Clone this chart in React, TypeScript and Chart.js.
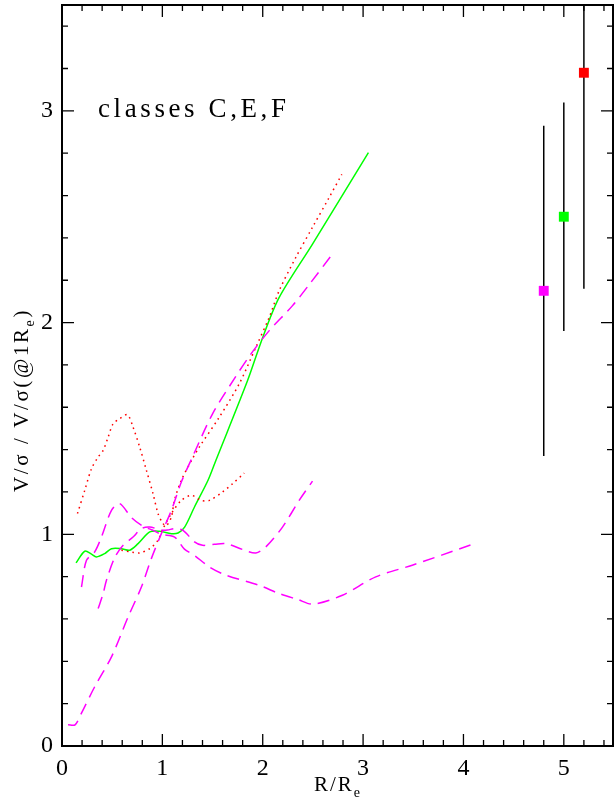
import React, { useEffect, useRef } from "react";
import { Chart, registerables } from "chart.js";

Chart.register(...registerables);

// ---- data ----
const greenX = [0.14, 0.227, 0.294, 0.343, 0.426, 0.493, 0.592, 0.675, 0.758, 0.874, 0.973, 1.09, 1.156, 1.222, 1.32, 1.455, 1.534, 1.849, 2.0, 2.164, 2.496, 3.053];
const greenY = [0.865, 0.92, 0.906, 0.893, 0.909, 0.932, 0.932, 0.925, 0.956, 1.011, 1.014, 1.003, 1.006, 1.034, 1.129, 1.255, 1.35, 1.726, 1.93, 2.119, 2.371, 2.803];

const redLongX = [0.154, 0.227, 0.294, 0.36, 0.41, 0.46, 0.509, 0.575, 0.652, 0.708, 0.774, 0.841, 0.907, 0.957, 1.007, 1.04, 1.09, 1.12, 1.189, 1.3, 1.368, 1.567, 1.766, 1.932, 2.065, 2.164, 2.33, 2.496, 2.662, 2.788];
const redLongY = [1.098, 1.208, 1.31, 1.365, 1.396, 1.459, 1.522, 1.546, 1.565, 1.506, 1.412, 1.302, 1.192, 1.098, 1.05, 1.04, 1.082, 1.16, 1.255, 1.357, 1.412, 1.553, 1.711, 1.884, 2.025, 2.151, 2.308, 2.45, 2.591, 2.7];

const redShortX = [0.592, 0.7, 0.774, 0.874, 0.957, 1.0, 1.09, 1.189, 1.289, 1.388, 1.468, 1.6, 1.7, 1.816];
const redShortY = [0.925, 0.915, 0.912, 0.932, 0.972, 1.02, 1.098, 1.16, 1.184, 1.16, 1.16, 1.2, 1.239, 1.289];

const magAX = [0.06, 0.13, 0.194, 0.326, 0.493, 0.659, 0.791, 0.89, 0.99, 1.09, 1.189, 1.3, 1.5, 1.716, 1.883, 2.065, 2.297, 2.48, 2.688];
const magAY = [0.1, 0.1, 0.155, 0.28, 0.421, 0.61, 0.751, 0.885, 1.003, 1.113, 1.247, 1.365, 1.569, 1.734, 1.852, 1.962, 2.08, 2.19, 2.32];

const magBX = [0.194, 0.244, 0.326, 0.393, 0.493, 0.575, 0.69, 0.8, 0.9, 0.99, 1.122, 1.22, 1.32, 1.468, 1.634, 1.965, 2.164, 2.35, 2.5, 2.794, 3.126, 3.49, 4.075];
const magBY = [0.751, 0.877, 0.917, 0.987, 1.113, 1.145, 1.08, 1.04, 1.02, 1.0, 0.987, 0.93, 0.9, 0.846, 0.807, 0.759, 0.72, 0.692, 0.67, 0.712, 0.799, 0.854, 0.95];

const magCX = [0.36, 0.41, 0.443, 0.525, 0.609, 0.708, 0.791, 0.874, 0.99, 1.05, 1.122, 1.206, 1.32, 1.4, 1.52, 1.634, 1.8, 1.932, 2.03, 2.197, 2.363, 2.496];
const magCY = [0.649, 0.72, 0.783, 0.89, 0.948, 0.987, 1.027, 1.034, 1.02, 1.02, 1.027, 1.019, 0.964, 0.948, 0.953, 0.956, 0.928, 0.912, 0.94, 1.034, 1.16, 1.251];

const errX = [4.8, 5.0, 5.2];
const errY = [2.15, 2.5, 3.18];
const errLow = [1.37, 1.96, 2.16];
const errHigh = [2.93, 3.04, 4.2];
const errColors = ["#ff00ff", "#00ff00", "#ff0000"];

const xTickValues = [0, 1, 2, 3, 4, 5];
const xTickLabels = ["0", "1", "2", "3", "4", "5"];
const yTickValues = [0, 1, 2, 3];
const yTickLabels = ["0", "1", "2", "3"];
const minorStep = 0.2;
const xMin = 0, xMax = 5.5, yMin = 0, yMax = 3.5;

const annotationText = "classes C,E,F";
const xTitleParts = [{ text: "R/R" }, { text: "e", sub: true }];
const yTitleParts = [{ text: "V/σ / V/σ(@1R" }, { text: "e", sub: true }, { text: ")" }];

const FONT = '"Liberation Serif", "DejaVu Serif", serif';

function pts(xs: number[], ys: number[]) {
  return xs.map((x, i) => ({ x, y: ys[i] }));
}

type Part = { text: string; sub?: boolean };

function drawRich(ctx: CanvasRenderingContext2D, parts: Part[], cx: number, baseline: number, size: number, spacing: number) {
  const widths: number[] = [];
  let total = 0;
  parts.forEach((p) => {
    ctx.font = `${p.sub ? Math.round(size * 0.65) : size}px ${FONT}`;
    (ctx as any).letterSpacing = spacing + "px";
    const w = ctx.measureText(p.text).width;
    widths.push(w);
    total += w;
  });
  let x = cx - total / 2;
  ctx.textAlign = "left";
  ctx.textBaseline = "alphabetic";
  parts.forEach((p, i) => {
    ctx.font = `${p.sub ? Math.round(size * 0.65) : size}px ${FONT}`;
    (ctx as any).letterSpacing = spacing + "px";
    ctx.fillText(p.text, x, baseline + (p.sub ? size * 0.3 : 0));
    x += widths[i];
  });
}

const framePlugin = {
  id: "frame",
  beforeDatasetsDraw(chart: any) {
    const { ctx, chartArea, scales } = chart;
    const xs = scales.x, ys = scales.y;
    ctx.save();
    ctx.beginPath();
    ctx.rect(chartArea.left, chartArea.top, chartArea.right - chartArea.left, chartArea.bottom - chartArea.top);
    ctx.clip();
    ctx.strokeStyle = "#000";
    ctx.lineWidth = 1.5;
    errX.forEach((x, i) => {
      const px = xs.getPixelForValue(x);
      ctx.beginPath();
      ctx.moveTo(px, ys.getPixelForValue(errLow[i]));
      ctx.lineTo(px, ys.getPixelForValue(errHigh[i]));
      ctx.stroke();
    });
    ctx.restore();
  },
  afterDraw(chart: any) {
    const { ctx, chartArea, scales } = chart;
    const xs = scales.x, ys = scales.y;
    const { left, right, top, bottom } = chartArea;
    ctx.save();
    ctx.strokeStyle = "#000";
    ctx.fillStyle = "#000";
    ctx.lineWidth = 2;
    ctx.strokeRect(left, top, right - left - 1, bottom - top);

    const major = 12, minor = 6;
    ctx.lineWidth = 1.3;
    for (let k = 0; xMin + k * minorStep <= xMax + 1e-9; k++) {
      const v = xMin + k * minorStep;
      const isMajor = Math.abs(v - Math.round(v)) < 1e-6;
      const len = isMajor ? major : minor;
      const px = xs.getPixelForValue(v);
      ctx.beginPath();
      ctx.moveTo(px, bottom);
      ctx.lineTo(px, bottom - len);
      ctx.moveTo(px, top);
      ctx.lineTo(px, top + len);
      ctx.stroke();
    }
    for (let k = 0; yMin + k * minorStep <= yMax + 1e-9; k++) {
      const v = yMin + k * minorStep;
      const isMajor = Math.abs(v - Math.round(v)) < 1e-6;
      const len = isMajor ? major : minor;
      const py = ys.getPixelForValue(v);
      ctx.beginPath();
      ctx.moveTo(left, py);
      ctx.lineTo(left + len, py);
      ctx.moveTo(right - 1, py);
      ctx.lineTo(right - 1 - len, py);
      ctx.stroke();
    }

    ctx.font = `24px ${FONT}`;
    ctx.textBaseline = "middle";
    ctx.textAlign = "center";
    xTickValues.forEach((v, i) => {
      ctx.fillText(xTickLabels[i], xs.getPixelForValue(v), bottom + 23);
    });
    ctx.textAlign = "right";
    yTickValues.forEach((v, i) => {
      ctx.fillText(yTickLabels[i], left - 9, ys.getPixelForValue(v));
    });

    drawRich(ctx, xTitleParts, (left + right) / 2, 791, 21, 2);
    ctx.save();
    ctx.translate(28, 400);
    ctx.rotate(-Math.PI / 2);
    drawRich(ctx, yTitleParts, 0, 0, 21, 2.6);
    ctx.restore();

    ctx.font = `27px ${FONT}`;
    (ctx as any).letterSpacing = "3.6px";
    ctx.textAlign = "left";
    ctx.textBaseline = "alphabetic";
    ctx.fillText(annotationText, 98, 117);
    ctx.restore();
  },
};

export default function App() {
  const ref = useRef<HTMLCanvasElement | null>(null);
  useEffect(() => {
    if (!ref.current) return;
    const magenta = "#ff00ff";
    const lineBase = { showLine: true, pointRadius: 0, pointHoverRadius: 0, fill: false, tension: 0.3, borderWidth: 1.5 };
    const chart = new Chart(ref.current, {
      type: "scatter",
      data: {
        datasets: [
          { ...lineBase, data: pts(magAX, magAY), borderColor: magenta, borderDash: [12, 7] },
          { ...lineBase, data: pts(magBX, magBY), borderColor: magenta, borderDash: [12, 7] },
          { ...lineBase, data: pts(magCX, magCY), borderColor: magenta, borderDash: [12, 7] },
          { ...lineBase, data: pts(redLongX, redLongY), borderColor: "#ff0000", borderDash: [1.6, 4] },
          { ...lineBase, data: pts(redShortX, redShortY), borderColor: "#ff0000", borderDash: [1.6, 4] },
          { ...lineBase, data: pts(greenX, greenY), borderColor: "#00ff00" },
          {
            data: pts(errX, errY),
            showLine: false,
            pointStyle: "rect",
            pointRadius: 7,
            pointHoverRadius: 7,
            pointBorderWidth: 0,
            pointBackgroundColor: errColors,
            pointBorderColor: errColors,
          } as any,
        ] as any,
      },
      options: {
        responsive: false,
        animation: false,
        devicePixelRatio: 1,
        layout: { autoPadding: false, padding: { left: 62, right: 0, top: 5, bottom: 63 } } as any,
        plugins: { legend: { display: false }, tooltip: { enabled: false } },
        events: [],
        scales: {
          x: { type: "linear", min: xMin, max: xMax, display: false },
          y: { type: "linear", min: yMin, max: yMax, display: false },
        },
      },
      plugins: [framePlugin],
    });
    return () => chart.destroy();
  }, []);
  return (
    <div style={{ position: "absolute", left: 0, top: 0, width: 614, height: 809, background: "#fff" }}>
      <canvas ref={ref} width={614} height={809} style={{ width: 614, height: 809, display: "block" }} />
    </div>
  );
}
